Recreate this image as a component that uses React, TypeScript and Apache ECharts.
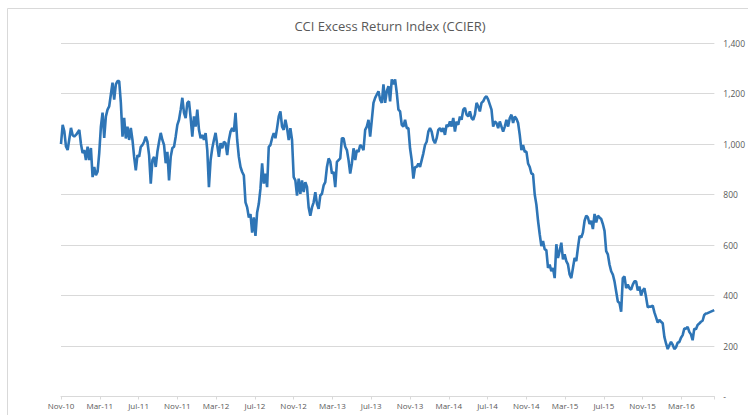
import React, { useEffect, useRef } from "react";
import * as echarts from "echarts";

const TITLE = "CCI Excess Return Index (CCIER)";

const xLabels = [
  "Nov-10", "Mar-11", "Jul-11", "Nov-11", "Mar-12", "Jul-12", "Nov-12", "Mar-13",
  "Jul-13", "Nov-13", "Mar-14", "Jul-14", "Nov-14", "Mar-15", "Jul-15", "Nov-15", "Mar-16",
];

// months covered by the axis (Nov-10 .. mid Jun-16)
const X_MAX_MONTHS = 67.4;
// observations per month (roughly every 5 calendar days)
const SAMPLES_PER_MONTH = 5.832;

const values = [
  1000, 1076, 1050, 990, 976, 1020, 1064, 1035, 1030, 1036, 1045, 1056, 1000, 964, 976, 936,
  989, 936, 984, 869, 909, 876, 890, 964, 1069, 1124, 1024, 1109, 1136, 1149, 1196, 1243,
  1176, 1236, 1249, 1249, 1164, 1029, 1104, 1022, 1069, 1016, 1064, 1016, 949, 896, 956, 949,
  989, 996, 1009, 1029, 1009, 956, 843, 936, 949, 909, 969, 1009, 1044, 1016, 996, 924,
  969, 856, 949, 984, 989, 1029, 1076, 1096, 1136, 1183, 1123, 1103, 1163, 1169, 1103, 1029,
  1109, 1069, 1136, 1056, 1023, 1036, 1016, 1043, 976, 829, 936, 983, 1016, 1044, 996, 949,
  1003, 983, 1009, 1003, 956, 1016, 1049, 1063, 1049, 1123, 1016, 949, 909, 889, 876, 769,
  749, 709, 722, 649, 709, 636, 729, 763, 823, 923, 843, 883, 829, 989, 996, 1023,
  1043, 1023, 1063, 1109, 1129, 1069, 1056, 1096, 1063, 1016, 1063, 1016, 869, 856, 796, 863,
  803, 856, 810, 849, 830, 749, 716, 749, 769, 809, 763, 743, 796, 803, 836, 849,
  909, 943, 930, 883, 890, 829, 929, 936, 943, 1023, 1023, 989, 976, 936, 883, 923,
  983, 936, 976, 969, 996, 989, 976, 1056, 1069, 1096, 1029, 1096, 1163, 1183, 1196, 1209,
  1176, 1163, 1236, 1163, 1209, 1229, 1169, 1256, 1236, 1256, 1203, 1136, 1129, 1076, 1069, 1096,
  1063, 1063, 983, 936, 863, 909, 909, 923, 909, 936, 963, 996, 1009, 1049, 1063, 1049,
  1016, 1003, 1023, 1056, 1063, 1049, 1063, 1036, 1076, 1069, 1089, 1069, 1103, 1049, 1089, 1076,
  1109, 1096, 1136, 1143, 1116, 1109, 1129, 1103, 1096, 1116, 1163, 1149, 1129, 1163, 1169, 1183,
  1189, 1176, 1156, 1136, 1069, 1089, 1083, 1063, 1089, 1069, 1049, 1069, 1096, 1069, 1103, 1116,
  1083, 1109, 1100, 1083, 1036, 976, 996, 969, 970, 923, 909, 883, 880, 800, 760, 696,
  643, 596, 616, 583, 580, 509, 523, 496, 509, 469, 603, 549, 576, 609, 543, 563,
  536, 523, 483, 469, 509, 549, 536, 589, 636, 629, 649, 696, 716, 709, 683, 696,
  663, 723, 689, 716, 709, 703, 683, 656, 576, 563, 523, 496, 483, 456, 416, 376,
  370, 336, 469, 476, 429, 443, 429, 423, 443, 456, 456, 420, 436, 400, 420, 429,
  393, 353, 356, 356, 360, 333, 313, 293, 303, 296, 290, 236, 210, 188, 203, 216,
  205, 188, 195, 213, 216, 233, 243, 269, 269, 276, 256, 246, 223, 269, 266, 283,
  289, 296, 300, 323, 329, 330, 333, 336, 339, 342,
];

const Y_MIN = 0;
const Y_MAX = 1400;
const Y_STEP = 200;

const FONT = "'Open Sans', 'Noto Sans', sans-serif";
const TEXT_COLOR = "#595959";
const GRID_COLOR = "#d9d9d9";
const LINE_COLOR = "#2E75B6";

export default function App() {
  const ref = useRef<HTMLDivElement>(null);

  useEffect(() => {
    if (!ref.current) return;
    const chart = echarts.init(ref.current, undefined, { renderer: "svg" });
    const data = values.map((v, i) => [i / SAMPLES_PER_MONTH, v]);

    chart.setOption({
      animation: false,
      backgroundColor: "#ffffff",
      title: {
        text: TITLE,
        left: 385,
        top: 14,
        textAlign: "center",
        textStyle: {
          fontFamily: FONT,
          fontSize: 13,
          fontWeight: "normal",
          color: TEXT_COLOR,
        },
      },
      graphic: [
        {
          type: "rect",
          shape: { x: 7.5, y: 8.5, width: 800, height: 460 },
          style: { fill: "none", stroke: GRID_COLOR, lineWidth: 1 },
          silent: true,
        },
      ],
      grid: { left: 61, right: 32, top: 43, bottom: 18.5 },
      xAxis: {
        type: "value",
        min: 0,
        max: X_MAX_MONTHS,
        interval: 4,
        axisLine: { show: true, lineStyle: { color: GRID_COLOR, width: 1 } },
        axisTick: { show: true, length: 3, lineStyle: { color: GRID_COLOR } },
        splitLine: { show: false },
        axisLabel: {
          fontFamily: FONT,
          fontSize: 8,
          color: TEXT_COLOR,
          margin: 5,
          formatter: (v: number) => {
            const idx = Math.round(v / 4);
            return Math.abs(v - idx * 4) < 1e-6 && idx < xLabels.length ? xLabels[idx] : "";
          },
        },
      },
      yAxis: {
        type: "value",
        position: "right",
        min: Y_MIN,
        max: Y_MAX,
        interval: Y_STEP,
        axisLine: { show: false },
        axisTick: { show: false },
        splitLine: { show: true, lineStyle: { color: GRID_COLOR, width: 1 } },
        axisLabel: {
          fontFamily: FONT,
          fontSize: 8.5,
          color: TEXT_COLOR,
          margin: 9,
          formatter: (v: number) => (v === 0 ? "-" : v.toLocaleString("en-US")),
        },
      },
      series: [
        {
          type: "line",
          data,
          symbol: "none",
          showSymbol: false,
          lineStyle: { color: LINE_COLOR, width: 2.6 },
        },
      ],
    });

    return () => chart.dispose();
  }, []);

  return (
    <div
      ref={ref}
      style={{ position: "absolute", left: 0, top: 0, width: 748, height: 415 }}
    />
  );
}
